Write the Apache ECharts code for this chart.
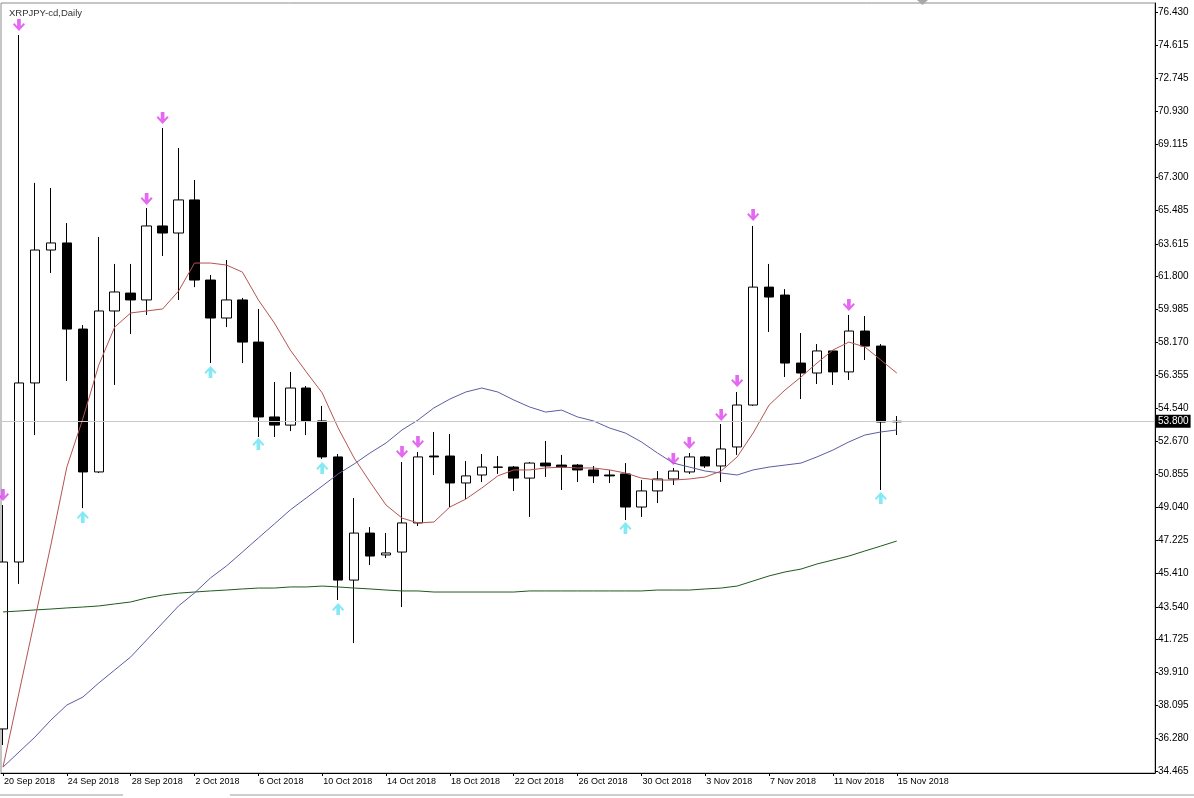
<!DOCTYPE html>
<html><head><meta charset="utf-8">
<script src="https://cdn.jsdelivr.net/npm/echarts@6/dist/echarts.min.js"></script>
<style>html,body{margin:0;padding:0;background:#fff;overflow:hidden}#c{width:1194px;height:798px}</style>
</head><body><div id="c"></div>
<script>
const chartTitle = 'XRPJPY-cd,Daily';
const tickIdx = [0,4,8,12,16,20,24,28,32,36,40,44,48,52,56];
const tickLabels = ['20 Sep 2018','24 Sep 2018','28 Sep 2018','2 Oct 2018','6 Oct 2018','10 Oct 2018','14 Oct 2018','18 Oct 2018','22 Oct 2018','26 Oct 2018','30 Oct 2018','3 Nov 2018','7 Nov 2018','11 Nov 2018','15 Nov 2018'];
const yTicks = [34.465,36.280,38.095,39.910,41.725,43.540,45.410,47.225,49.040,50.855,52.670,54.540,56.355,58.170,59.985,61.800,63.615,65.485,67.300,69.115,70.930,72.745,74.615,76.430];

const opens  = [36.79,46.02,55.92,63.27,63.66,58.90,51.00,59.90,60.89,60.51,64.60,64.21,66.04,61.61,59.51,60.51,58.18,54.04,53.59,55.64,53.82,51.83,45.02,47.62,46.41,46.57,48.18,51.88,51.88,50.39,50.83,51.27,51.27,50.66,51.49,51.38,51.38,51.11,50.83,50.89,49.06,49.95,50.61,51.00,51.83,51.33,52.38,54.70,61.22,60.78,57.02,56.47,57.69,56.53,58.79,57.96,53.77];
const closes = [46.02,55.92,63.27,63.66,58.90,51.00,59.90,60.95,60.51,64.60,64.21,66.04,61.61,59.51,60.51,58.18,54.04,53.59,55.64,53.82,51.83,45.02,47.62,46.35,46.52,48.18,51.83,51.83,50.39,50.78,51.27,51.26,50.66,51.49,51.33,51.27,51.11,50.78,50.78,49.06,49.95,50.61,51.05,51.83,51.33,52.27,54.70,61.22,60.67,57.02,56.47,57.69,56.53,58.79,57.96,53.76,53.80];
const lows   = [35.90,44.81,53.04,62.00,56.03,49.00,50.94,55.81,58.63,59.68,62.94,60.51,61.22,57.02,59.01,57.02,52.93,52.93,53.26,53.04,51.72,43.92,41.54,45.85,46.24,43.53,48.01,50.83,49.06,49.50,50.44,50.89,49.95,48.51,50.72,50.00,50.44,50.39,50.39,48.34,48.51,49.28,50.28,50.89,51.22,50.44,51.94,54.65,58.74,56.25,55.03,55.86,55.81,56.08,57.19,50.00,53.04];
const highs  = [49.17,75.16,66.98,66.70,64.76,59.12,63.99,62.50,62.50,65.59,70.02,68.91,67.14,61.89,62.72,60.62,60.01,55.97,56.53,55.75,54.65,51.99,49.56,47.95,47.62,51.55,52.10,53.21,53.10,51.60,51.99,51.88,51.33,51.55,52.71,51.94,51.44,51.33,51.11,51.49,50.55,51.05,51.22,52.05,51.88,53.65,55.42,64.60,62.50,61.11,58.68,58.07,57.74,59.68,59.62,58.07,54.09];

const maFast = [34.68,38.78,42.87,46.96,51.27,53.93,56.91,59.01,59.79,59.90,60.01,61.00,62.55,62.55,62.44,62.05,60.51,59.24,57.74,56.53,55.37,53.43,51.77,50.44,49.17,48.45,48.18,48.23,49.06,49.50,50.11,50.78,51.11,51.11,51.22,51.27,51.22,51.22,51.11,50.94,50.66,50.55,50.55,50.61,50.72,51.05,51.83,53.15,54.70,55.53,56.25,57.02,57.74,58.18,57.91,57.19,56.47];
const maMid  = [34.68,35.51,36.34,37.28,38.11,38.55,39.33,40.05,40.77,41.71,42.65,43.59,44.31,45.14,45.80,46.57,47.35,48.12,48.90,49.56,50.22,50.89,51.44,52.05,52.60,53.32,53.87,54.54,55.03,55.42,55.64,55.42,54.98,54.59,54.31,54.42,54.04,53.82,53.43,53.15,52.66,52.05,51.49,51.27,51.05,50.94,50.83,51.11,51.27,51.38,51.49,51.83,52.21,52.66,53.04,53.21,53.32];
const maSlow = [43.26,43.31,43.37,43.42,43.48,43.53,43.59,43.70,43.81,44.03,44.19,44.30,44.36,44.42,44.47,44.53,44.58,44.58,44.64,44.64,44.69,44.64,44.58,44.53,44.47,44.42,44.42,44.36,44.36,44.36,44.36,44.36,44.36,44.42,44.42,44.42,44.42,44.42,44.42,44.42,44.42,44.47,44.47,44.47,44.53,44.58,44.69,44.97,45.25,45.47,45.63,45.91,46.13,46.35,46.63,46.90,47.18];

const downArrows = [[0,49.72],[1,75.71],[9,66.09],[10,70.57],[25,52.10],[26,52.65],[42,51.72],[43,52.60],[45,54.15],[46,56.03],[47,65.21],[53,60.23]];
const upArrows   = [[5,48.51],[13,56.53],[16,52.54],[20,51.22],[21,43.42],[39,47.90],[55,49.56]];
const lastPrice = 53.80;

const FONT = 'Liberation Sans';
const candles = opens.map((o,i)=>[i,o,closes[i],lows[i],highs[i]]);
const toXY = arr => arr.map((v,i)=>[i,v]);
const downPath = 'path://M4,0 L8,0 L8,7 L11,4 L12.5,5.5 L6,12 L-0.5,5.5 L1,4 L4,7 Z';
const upPath = 'path://M4,12 L8,12 L8,5 L11,8 L12.5,6.5 L6,0 L-0.5,6.5 L1,8 L4,5 Z';

const chart = echarts.init(document.getElementById('c'), null, {renderer:'canvas'});
chart.setOption({
  animation:false,
  backgroundColor:'#fff',
  title:{text:chartTitle,left:4,top:3,textStyle:{fontFamily:FONT,fontSize:9.5,fontWeight:'normal',color:'#333'}},
  grid:{left:1,top:3,width:1154,height:770,show:true,borderColor:'#8c8c8c',borderWidth:1,containLabel:false,outerBoundsMode:'none'},
  xAxis:{type:'value',min:-0.125,max:72.18,splitLine:{show:false},
    axisLine:{show:true,onZero:false,lineStyle:{color:'#000',width:1}},
    axisTick:{show:true,length:3,customValues:tickIdx,lineStyle:{color:'#000'}},
    axisLabel:{customValues:tickIdx,formatter:v=>tickLabels[tickIdx.indexOf(Math.round(v))]||'',align:'left',margin:4,padding:[0,0,0,1],fontFamily:FONT,fontSize:9,color:'#000'}},
  yAxis:{type:'value',position:'right',min:34.354,max:76.928,splitLine:{show:false},scale:true,
    axisLine:{show:true,onZero:false,lineStyle:{color:'#000',width:1}},
    axisTick:{show:true,length:3,customValues:yTicks,lineStyle:{color:'#000'}},
    axisLabel:{customValues:yTicks,formatter:v=>v.toFixed(3),margin:3,fontFamily:FONT,fontSize:10,color:'#000'}},
  series:[
    {type:'line',data:[],z:1,clip:false,silent:true,
     markLine:{silent:true,symbol:['none','none'],animation:false,
       lineStyle:{color:'#c8c8c8',width:1,type:'solid'},
       label:{show:true,position:'end',distance:1,formatter:p=>Number(p.value).toFixed(3),backgroundColor:'#000',color:'#fff',padding:[2,2,1,2],fontFamily:FONT,fontSize:10},
       data:[{yAxis:lastPrice}]}},
    {type:'candlestick',data:candles,encode:{x:0,y:[1,2,3,4]},barWidth:10,z:2,
     itemStyle:{color:'#fff',color0:'#000',borderColor:'#000',borderColor0:'#000',borderWidth:1}},
    {type:'line',data:toXY(maSlow),showSymbol:false,z:3,lineStyle:{color:'#1f5a1f',width:1}},
    {type:'line',data:toXY(maMid),showSymbol:false,z:3,lineStyle:{color:'#5c5ca4',width:1}},
    {type:'line',data:toXY(maFast),showSymbol:false,z:3,lineStyle:{color:'#b35454',width:1}},
    {type:'scatter',data:downArrows,symbol:downPath,symbolSize:[12,12],z:4,itemStyle:{color:'#dd44ee'}},
    {type:'scatter',data:upArrows,symbol:upPath,symbolSize:[12,12],z:4,itemStyle:{color:'#66e4f2'}}
  ],
  graphic:[
    {type:'polygon',shape:{points:[[917,0],[928,0],[922.5,5]]},style:{fill:'#a8a8a8'},z:100},
    {type:'line',shape:{x1:0,y1:795,x2:123,y2:795},style:{stroke:'#9a9a9a',lineWidth:1}},
    {type:'line',shape:{x1:230,y1:795,x2:1194,y2:795},style:{stroke:'#9a9a9a',lineWidth:1}}
  ]
});
</script></body></html>
